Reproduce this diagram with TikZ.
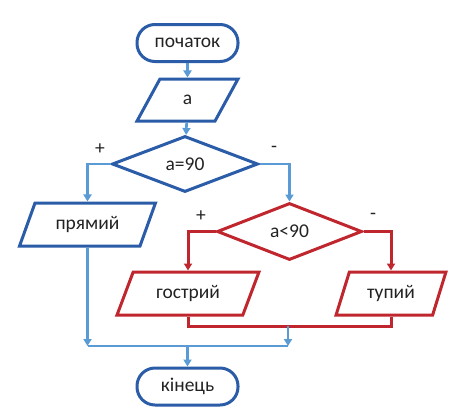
\documentclass[tikz,border=0pt]{standalone}
\usepackage{fontspec}
\setmainfont{Carlito}
\usetikzlibrary{shapes.geometric,arrows.meta}
\definecolor{shapeblue}{HTML}{2A5CA8}
\definecolor{lineblue}{HTML}{5B9BD5}
\definecolor{shapered}{HTML}{C0262D}
\definecolor{txtgray}{HTML}{222222}
\begin{document}
\begin{tikzpicture}[x=1pt,y=1pt,yscale=-1,xscale=1,
  font=\fontsize{19.5}{22}\selectfont, text=txtgray,
  term/.style={draw=shapeblue, line width=3pt, rounded corners=18pt, minimum width=101pt, minimum height=37pt, inner sep=0pt},
  io/.style={draw=#1, line width=3pt, trapezium, trapezium stretches=true, inner sep=0pt},
  cond/.style={draw=#1, line width=3pt, diamond, inner sep=0pt},
  flow/.style={draw=lineblue, line width=2.6pt, -{Triangle[width=8pt,length=7pt]}},
  flowred/.style={draw=shapered, line width=3pt, -{Triangle[width=8pt,length=7pt]}},
  branchsign/.style={inner sep=0pt}]
\useasboundingbox (0,0) rectangle (473,418);

%Shape: Terminator
\node[term] (start) at (187.5,43) {початок};
%Shape: Input
\node[io=shapeblue, trapezium left angle=68, trapezium right angle=112, minimum width=101pt, minimum height=42pt] (inA) at (187.5,100) {a};
%Shape: Decision
\node[cond=shapeblue, minimum width=146pt, minimum height=56pt] (isRight) at (185,164) {a=90};
%Shape: Output
\node[io=shapeblue, trapezium left angle=60, trapezium right angle=120, minimum width=137pt, minimum height=43pt] (right) at (87.5,224.5) {прямий};
%Shape: Decision
\node[cond=shapered, minimum width=145pt, minimum height=57pt] (isAcute) at (289.5,231.5) {a<90};
%Shape: Output
\node[io=shapered, trapezium left angle=60, trapezium right angle=120, minimum width=143pt, minimum height=43pt] (acute) at (188,293.5) {гострий};
%Shape: Output
\node[io=shapered, trapezium left angle=65, trapezium right angle=115, minimum width=110pt, minimum height=43pt] (obtuse) at (391,293.5) {тупий};
%Shape: Terminator
\node[term] (stop) at (187.5,386.5) {кінець};

% Branch signs
\node[branchsign] (plusA) at (100,149) {+};
\node[branchsign] (minusA) at (274,149) {-};
\node[branchsign] (plusB) at (201,216) {+};
\node[branchsign] (minusB) at (373,216) {-};

% Join points
\coordinate (redJoin) at (288,326);
\coordinate (joinL) at (87.5,346);
\coordinate (joinR) at (288,346);
\coordinate (joinM) at (187.5,346);

%Connectors
\draw[flow] (start) -- (inA);
\draw[flow] (inA) -- (isRight);
\draw[flow] (isRight.west) -| (right.north);
\draw[flow] (isRight.east) -| (isAcute.north);
\draw[flowred] (isAcute.west) -| (acute.north);
\draw[flowred] (isAcute.east) -| (obtuse.north);
\draw[draw=shapered, line width=3pt] (acute.south) |- (redJoin) -| (obtuse.south);
\draw[flow] (redJoin) -- (joinR);
\draw[flow] (right.south) -- (joinL);
\draw[draw=lineblue, line width=2.6pt] (joinL) -- (joinR);
\draw[flow] (joinM) -- (stop);

\end{tikzpicture}
\end{document}
